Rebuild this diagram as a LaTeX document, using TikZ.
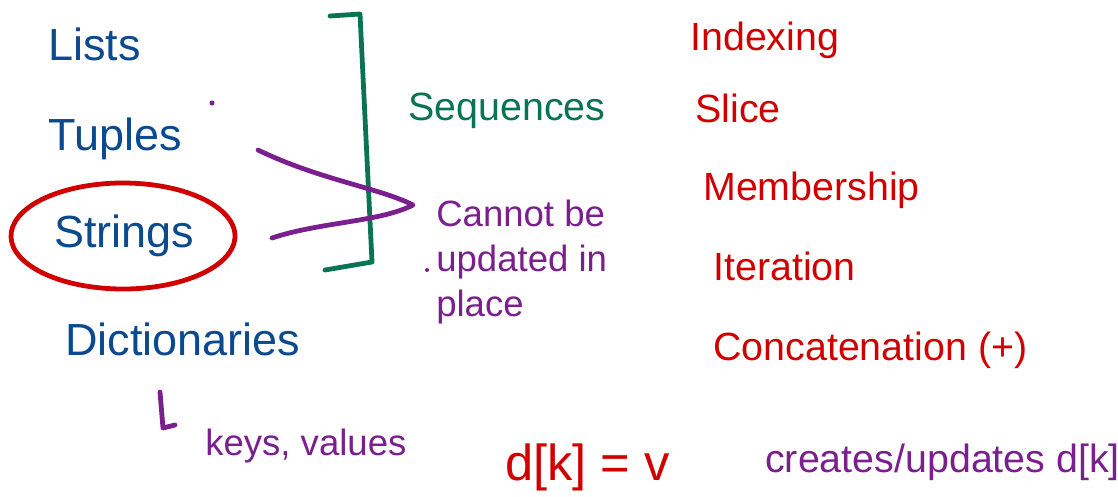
\documentclass[tikz,border=0pt]{standalone}
\usepackage{fontspec}
\setmainfont{Liberation Sans}
\usepackage{tikz}
\definecolor{inkblue}{HTML}{0B4A8E}
\definecolor{inkgreen}{HTML}{0A7352}
\definecolor{inkred}{HTML}{D10000}
\definecolor{inkpurple}{HTML}{7B1F8E}

\begin{document}
\begin{tikzpicture}[x=0.025cm, y=-0.025cm,
    pen/.style={line width=3.4pt, line cap=round, line join=round},
    word/.style={anchor=base west, inner sep=0pt},
    big/.style={word, font=\fontsize{32}{36}\selectfont},
    mid/.style={word, font=\fontsize{28}{32}\selectfont},
    small/.style={word, font=\fontsize{26}{32}\selectfont, align=left},
]
    \useasboundingbox (0,0) rectangle (1118,496);
    \clip (0,0) rectangle (1118,496);

    % types
    \node[big, inkblue] (lists)  at (48, 60)  {Lists};
    \node[big, inkblue] (tuples) at (48, 150) {Tuples};
    \node[big, inkblue] (strings) at (54, 247) {Strings};
    \node[big, inkblue] (dicts)  at (65, 355) {Dictionaries};
    \node[small, inkpurple] (keys) at (205, 455) {keys, values};

    \draw[pen, inkred] (123, 236) ++(55:112 and 53)
        arc[start angle=55, end angle=425, x radius=112, y radius=53];
    \draw[pen, inkpurple] (160, 392) -- (163, 428) -- (175, 425);
    \fill[inkpurple] (212, 103) circle (2.5);

    % sequences
    \coordinate (B1) at (330, 16);
    \coordinate (B2) at (360, 14);
    \coordinate (B3) at (372, 262);
    \coordinate (B4) at (325, 270);
    \draw[pen, inkgreen] (B1) -- (B2) -- (B3) -- (B4);
    \node[mid, inkgreen] (seq) at (408, 120) {Sequences};

    % immutable (base = last line)
    \node[small, inkpurple] (immut) at (436, 316) {Cannot be\\updated in\\place};
    \coordinate (V1) at (258, 150);
    \coordinate (V2) at (413, 205);
    \coordinate (V3) at (272, 238);
    \draw[pen, inkpurple] (V1) .. controls (320, 180) and (380, 188) .. (V2)
        .. controls (380, 222) and (320, 222) .. (V3);
    \fill[inkpurple] (427, 270) circle (2);

    % operations
    \node[mid, inkred] (idx)  at (690, 50)  {Indexing};
    \node[mid, inkred] (slc)  at (695, 122) {Slice};
    \node[mid, inkred] (memb) at (703, 200) {Membership};
    \node[mid, inkred] (iter) at (713, 280) {Iteration};
    \node[mid, inkred] (conc) at (713, 360) {Concatenation (+)};

    % dict assignment
    \node[word, inkred, font=\fontsize{36}{40}\selectfont] (assign) at (505, 480) {d[k] = v};
    \node[mid, inkpurple] (upd) at (765, 472) {creates/updates d[k]};
\end{tikzpicture}
\end{document}
